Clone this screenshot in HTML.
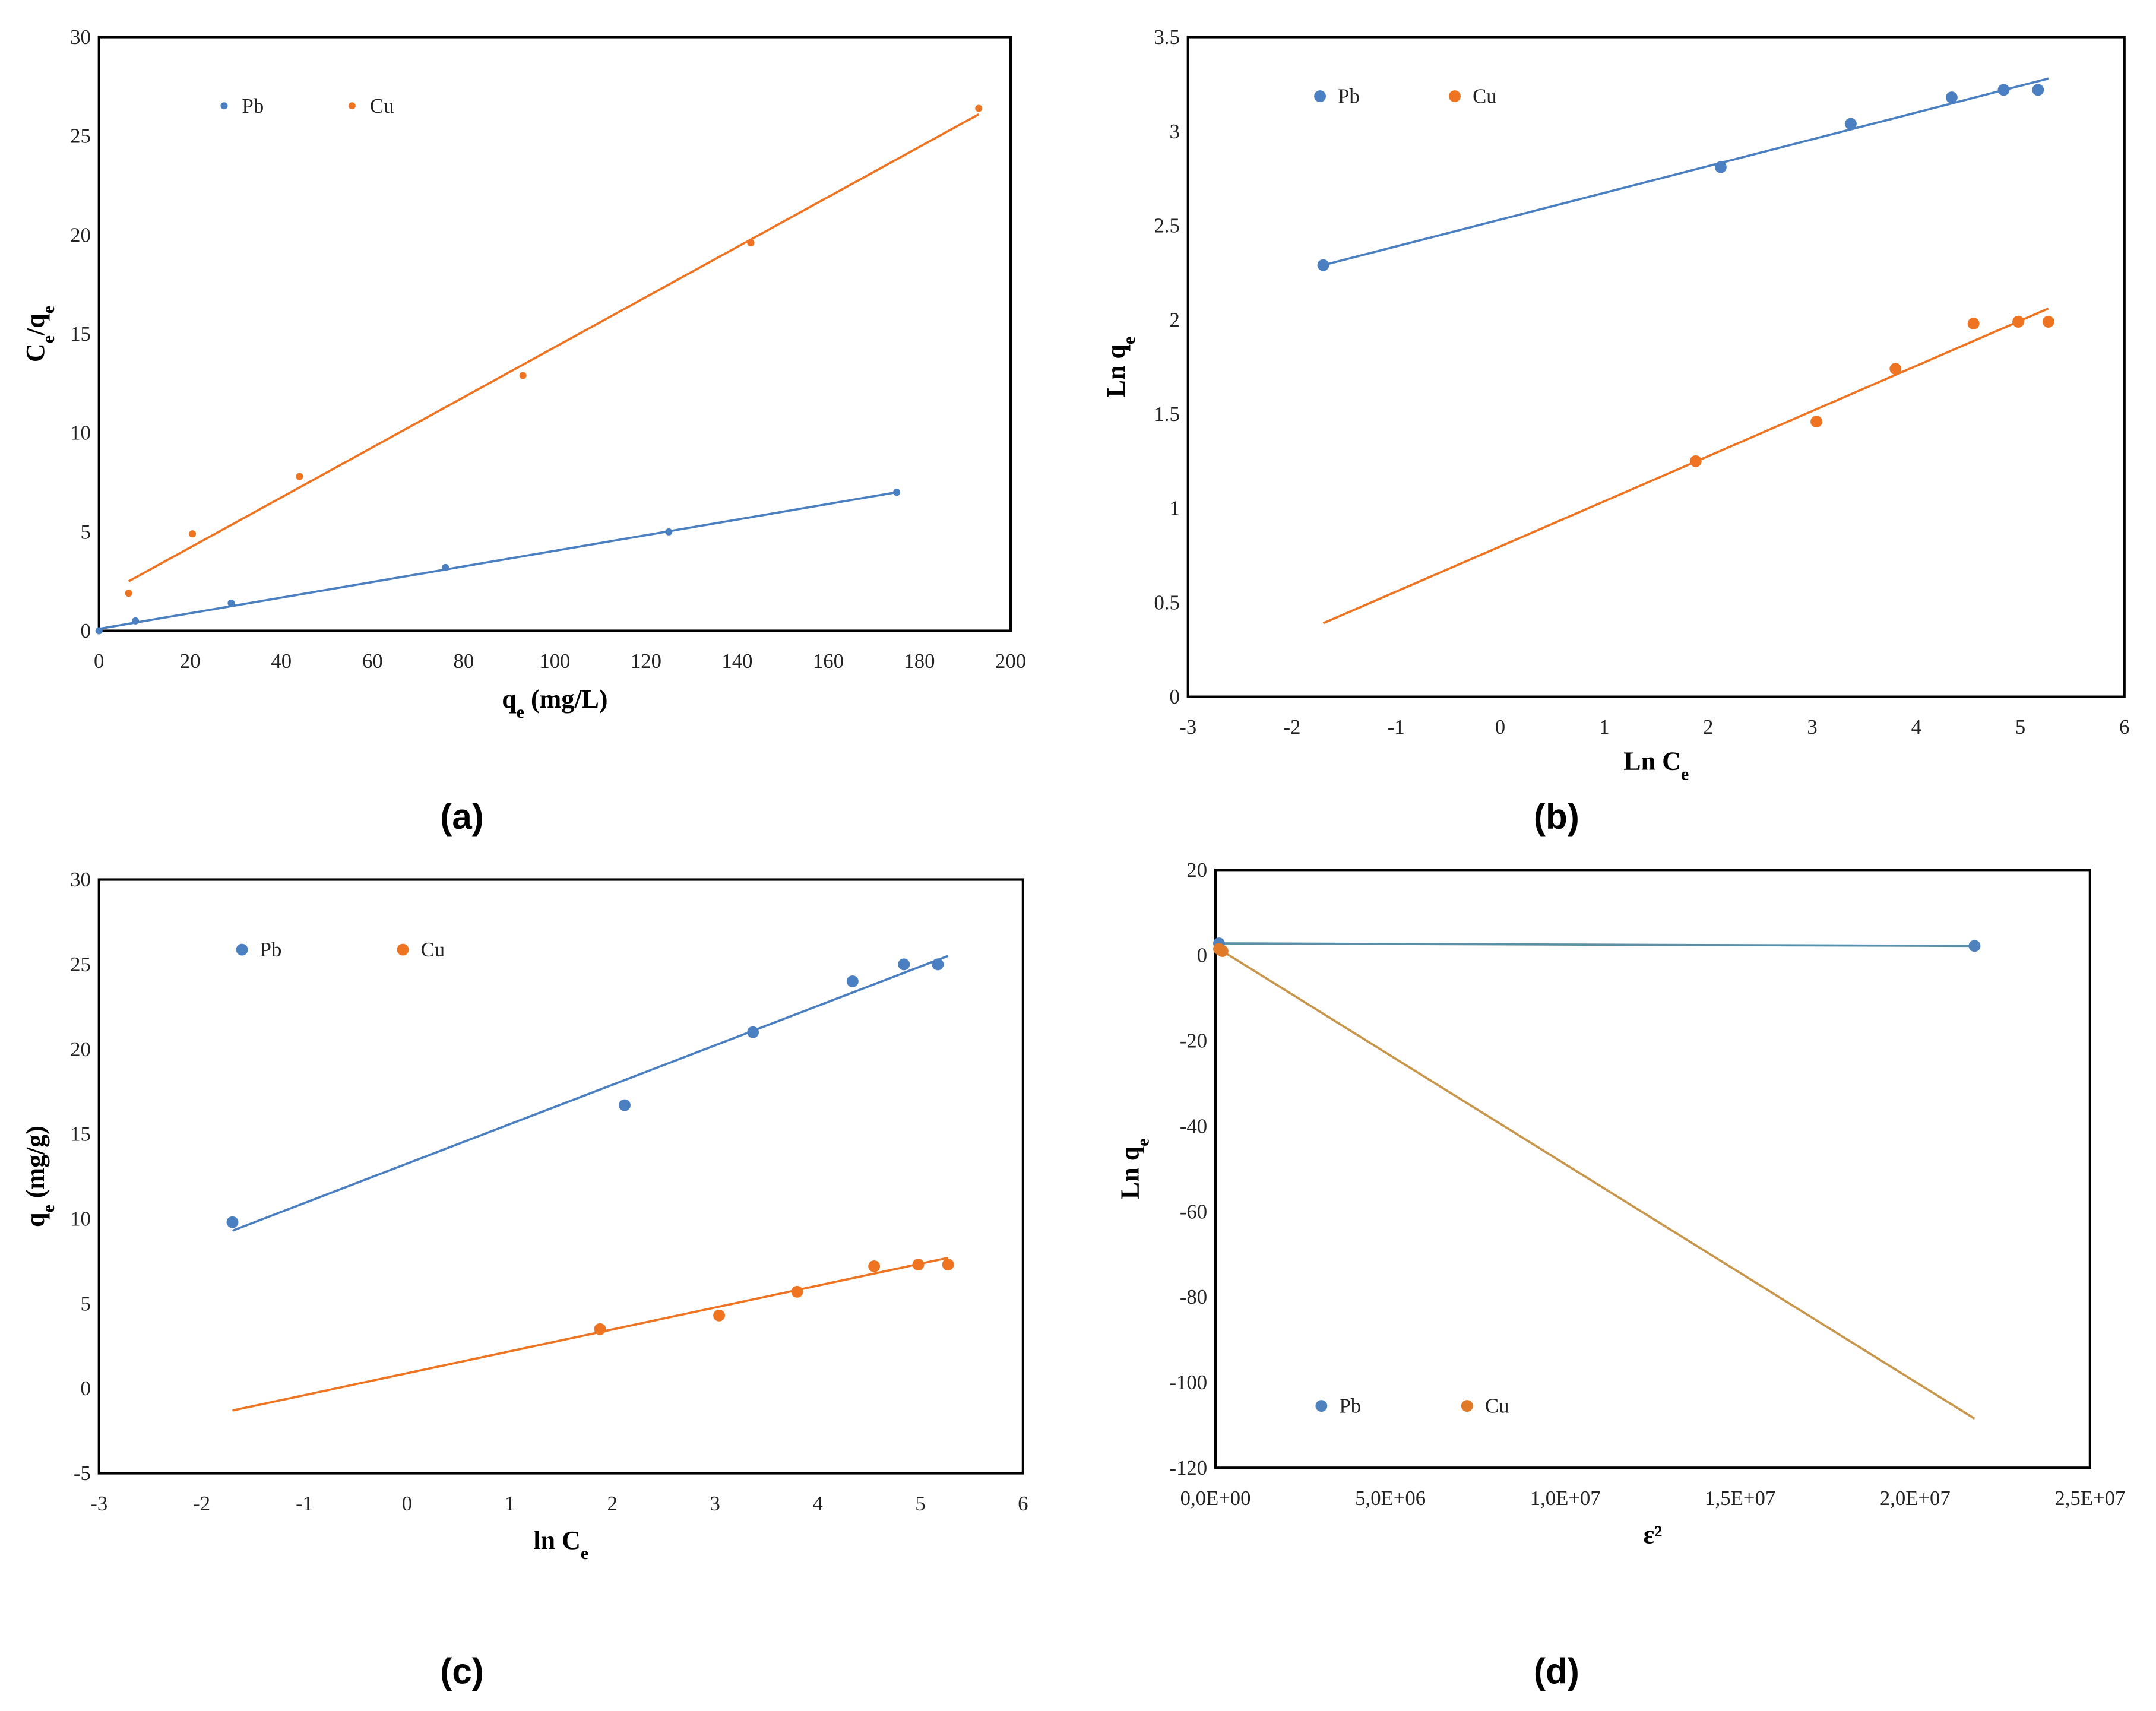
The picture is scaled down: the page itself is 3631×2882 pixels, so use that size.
<!DOCTYPE html>
<html><head><meta charset="utf-8"><style>
html,body{margin:0;padding:0;background:#fff}
svg{display:block}
</style></head><body>
<svg id="fig" xmlns="http://www.w3.org/2000/svg" width="3631" height="2882" viewBox="0 0 1568 1245" preserveAspectRatio="none">
<rect width="1568" height="1245" fill="#fff"/>
</svg>
<script>
// Panel (a) Langmuir
const aPbX=[0,8,29,76,125,175];
const aPbY=[0,0.5,1.4,3.2,5.0,7.0];
const aCuX=[6.5,20.5,44,93,143,193];
const aCuY=[1.9,4.9,7.8,12.9,19.6,26.4];
const aPbFit=[[0,0.1],[175,7.0]];
const aCuFit=[[6.5,2.5],[193,26.1]];
const aXTicks=[0,20,40,60,80,100,120,140,160,180,200];
const aYTicks=[0,5,10,15,20,25,30];
// Panel (b) Freundlich
const lnCe=[-1.7,2.12,3.37,4.34,4.84,5.17];
const lnCeCu=[1.88,3.04,3.8,4.55,4.98,5.27];
const bPbY=[2.29,2.81,3.04,3.18,3.22,3.22];
const bCuY=[1.25,1.46,1.74,1.98,1.99,1.99];
const bPbFit=[[-1.7,2.29],[5.27,3.28]];
const bCuFit=[[-1.7,0.39],[5.27,2.06]];
const bXTicks=[-3,-2,-1,0,1,2,3,4,5,6];
const bYTicks=[0,0.5,1,1.5,2,2.5,3,3.5];
// Panel (c) Temkin
const cPbY=[9.8,16.7,21.0,24.0,25.0,25.0];
const cCuY=[3.5,4.3,5.7,7.2,7.3,7.3];
const cPbFit=[[-1.7,9.3],[5.27,25.5]];
const cCuFit=[[-1.7,-1.3],[5.27,7.7]];
const cYTicks=[-5,0,5,10,15,20,25,30];
// Panel (d) D-R
const dPbX=[1e5,2.17e7];
const dPbY=[2.8,2.2];
const dCuX=[1e5,2e5];
const dCuY=[1.5,1.0];
const dPbFit=[[0,2.8],[2.17e7,2.2]];
const dCuFit=[[0,2.0],[2.17e7,-108.5]];
const dXTicks=[0,5e6,1e7,1.5e7,2e7,2.5e7];
const dXLabels=["0,0E+00","5,0E+06","1,0E+07","1,5E+07","2,0E+07","2,5E+07"];
const dYTicks=[-120,-100,-80,-60,-40,-20,0,20];

const NS="http://www.w3.org/2000/svg";
const svg=document.getElementById('fig');
function mk(tag,attrs,parent){const e=document.createElementNS(NS,tag);for(const k in attrs)e.setAttribute(k,attrs[k]);(parent||svg).appendChild(e);return e;}
const BLUE="#4a7fc1",ORANGE="#ee7422";

function panel(cfg){
  const g=mk('g',{});
  
  
  const sx=v=>cfg.L+(v-cfg.x0)/(cfg.x1-cfg.x0)*(cfg.R-cfg.L);
  const sy=v=>cfg.B-(v-cfg.y0)/(cfg.y1-cfg.y0)*(cfg.B-cfg.T);
  const box=mk('rect',{x:cfg.L,y:cfg.T,width:cfg.R-cfg.L,height:cfg.B-cfg.T,fill:'none',stroke:'#000','stroke-width':1.8},g);
  
  
  cfg.xt.forEach((v,i)=>{
    const t=mk('text',{x:sx(v),y:cfg.B+27,'text-anchor':'middle','font-family':'Liberation Serif, serif','font-size':15,fill:'#222'},g);
    t.textContent=cfg.xl?cfg.xl[i]:String(v);
    
    
  });
  cfg.yt.forEach(v=>{
    const t=mk('text',{x:cfg.L-6,y:sy(v)+5,'text-anchor':'end','font-family':'Liberation Serif, serif','font-size':15,fill:'#222'},g);
    t.textContent=String(v);
    
    
  });
  cfg.series.forEach(s=>{
    const ln=mk('line',{x1:sx(s.fit[0][0]),y1:sy(s.fit[0][1]),x2:sx(s.fit[1][0]),y2:sy(s.fit[1][1]),stroke:s.lc||s.c,'stroke-width':1.6},g);
    
    
    s.x.forEach((xv,i)=>{
      const p=mk('circle',{cx:sx(xv),cy:sy(s.y[i]),r:cfg.r,fill:s.c},g);
      
      
    });
    const lm=mk('circle',{cx:s.lx,cy:cfg.ly,r:cfg.r,fill:s.c},g);
    
    
    const lt=mk('text',{x:s.lx+13,y:cfg.ly+5,'font-family':'Liberation Serif, serif','font-size':15,fill:'#222'},g);
    lt.textContent=s.label;
    
    
  });
  const xt=mk('text',{x:(cfg.L+cfg.R)/2,y:cfg.xty,'text-anchor':'middle','font-family':'Liberation Serif, serif','font-size':19,'font-weight':'bold'},g);
  xt.innerHTML=cfg.xtitle;
  
  
  const yt=mk('text',{x:0,y:0,'text-anchor':'middle','font-family':'Liberation Serif, serif','font-size':19,'font-weight':'bold',transform:`translate(${cfg.ytx},${(cfg.T+cfg.B)/2}) rotate(-90)`},g);
  yt.innerHTML=cfg.ytitle;
  
  
  const pl=mk('text',{x:cfg.plx,y:cfg.ply,'text-anchor':'middle','font-family':'Liberation Sans, sans-serif','font-size':26,'font-weight':'bold'},g);
  pl.textContent=cfg.plabel;
  
  
}
const sub='<tspan baseline-shift="sub" font-size="13">e</tspan>';
panel({name:'panel-a-langmuir',L:72,R:735,T:27,B:459,x0:0,x1:200,y0:0,y1:30,xt:aXTicks,yt:aYTicks,r:2.6,ly:77,
  series:[{n:'pb',label:'Pb',c:BLUE,x:aPbX,y:aPbY,fit:aPbFit,lx:163},{n:'cu',label:'Cu',c:ORANGE,x:aCuX,y:aCuY,fit:aCuFit,lx:256}],
  xtitle:'q'+sub+' (mg/L)',xty:515,ytitle:'C'+sub+'/q'+sub,ytx:32,plabel:'(a)',plx:336,ply:603});
panel({name:'panel-b-freundlich',L:864,R:1545,T:27,B:507,x0:-3,x1:6,y0:0,y1:3.5,xt:bXTicks,yt:bYTicks,r:4.3,ly:70,
  series:[{n:'pb',label:'Pb',c:BLUE,x:lnCe,y:bPbY,fit:bPbFit,lx:960},{n:'cu',label:'Cu',c:ORANGE,x:lnCeCu,y:bCuY,fit:bCuFit,lx:1058}],
  xtitle:'Ln C'+sub,xty:560,ytitle:'Ln q'+sub,ytx:818,plabel:'(b)',plx:1132,ply:603});
panel({name:'panel-c-temkin',L:72,R:744,T:640,B:1072,x0:-3,x1:6,y0:-5,y1:30,xt:bXTicks,yt:cYTicks,r:4.3,ly:691,
  series:[{n:'pb',label:'Pb',c:BLUE,x:lnCe,y:cPbY,fit:cPbFit,lx:176},{n:'cu',label:'Cu',c:ORANGE,x:lnCeCu,y:cCuY,fit:cCuFit,lx:293}],
  xtitle:'ln C'+sub,xty:1127,ytitle:'q'+sub+' (mg/g)',ytx:32,plabel:'(c)',plx:336,ply:1225});
panel({name:'panel-d-dubinin',L:884,R:1520,T:633,B:1068,x0:0,x1:2.5e7,y0:-120,y1:20,xt:dXTicks,xl:dXLabels,yt:dYTicks,r:4.3,ly:1023,
  series:[{n:'pb',label:'Pb',c:'#4f81bd',lc:'#5a8fa8',x:dPbX,y:dPbY,fit:dPbFit,lx:961},{n:'cu',label:'Cu',c:'#e07a28',lc:'#c8964a',x:dCuX,y:dCuY,fit:dCuFit,lx:1067}],
  xtitle:'ε²',xty:1123,ytitle:'Ln q'+sub,ytx:828,plabel:'(d)',plx:1132,ply:1225});
</script>
</body></html>
